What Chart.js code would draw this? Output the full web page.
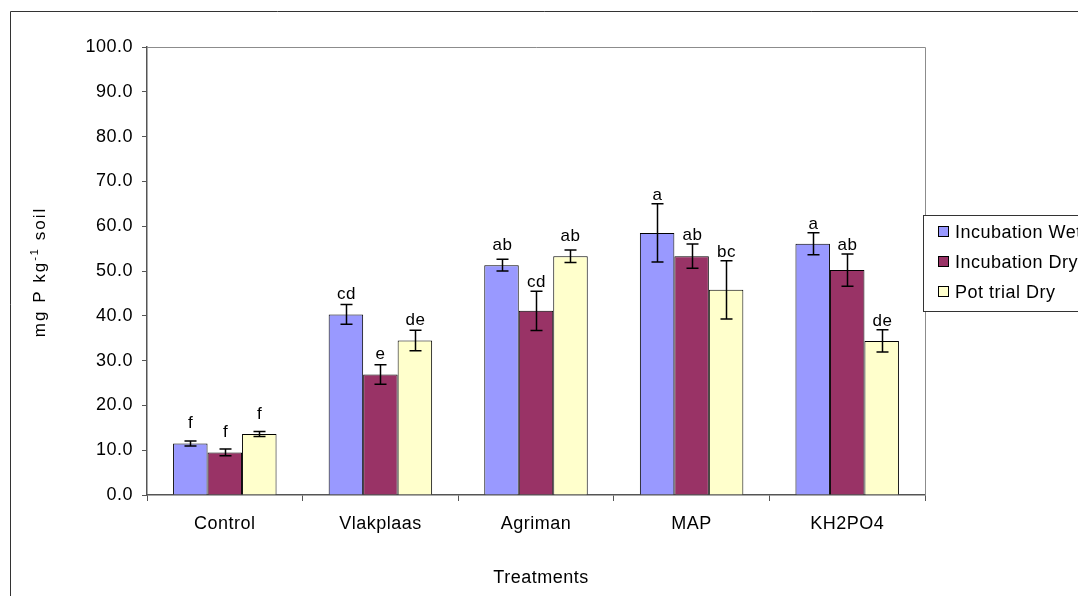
<!DOCTYPE html>
<html>
<head>
<meta charset="utf-8">
<script src="https://cdn.jsdelivr.net/npm/chart.js@4/dist/chart.umd.min.js"></script>
<style>
  html, body { margin: 0; padding: 0; background: #fff; }
  #wrap { width: 1078px; height: 596px; position: relative; }
</style>
</head>
<body>
<div id="wrap"><canvas id="c" width="1078" height="596"></canvas></div>
<script>
// Available P per treatment (mg P kg-1 soil), mean ± error for each method
const categories = ['Control', 'Vlakplaas', 'Agriman', 'MAP', 'KH2PO4'];
const seriesNames = ['Incubation Wet', 'Incubation Dry', 'Pot trial Dry'];
const incubationWet = [11.5, 40.3, 51.3, 58.5, 56.1];
const incubationDry = [9.5, 26.9, 41.1, 53.3, 50.2];
const potTrialDry = [13.6, 34.5, 53.3, 45.8, 34.4];
const incubationWetErr = [0.55, 2.2, 1.3, 6.5, 2.45];
const incubationDryErr = [0.75, 2.2, 4.4, 2.7, 3.6];
const potTrialDryErr = [0.55, 2.3, 1.4, 6.5, 2.5];
const incubationWetLetters = ['f', 'cd', 'ab', 'a', 'a'];
const incubationDryLetters = ['f', 'e', 'cd', 'ab', 'ab'];
const potTrialDryLetters = ['f', 'de', 'ab', 'bc', 'de'];
const yTickValues = [0, 10, 20, 30, 40, 50, 60, 70, 80, 90, 100];

const FONT = '"Liberation Sans", Arial, Helvetica, sans-serif';
Chart.defaults.font.family = FONT;
Chart.defaults.font.size = 18;
Chart.defaults.color = '#000';

const fills = ['#9999FF', '#993366', '#FFFFCC'];
const errs = [incubationWetErr, incubationDryErr, potTrialDryErr];
const letters = [incubationWetLetters, incubationDryLetters, potTrialDryLetters];

// Slightly open tracking for all canvas text
const TRACKING = '0.5px';
const tracking = {
  id: 'tracking',
  beforeUpdate(chart) { chart.ctx.letterSpacing = TRACKING; },
  beforeLayout(chart) { chart.ctx.letterSpacing = TRACKING; },
  beforeDraw(chart) { chart.ctx.letterSpacing = TRACKING; }
};

// Error bars, significance letters, plot frame, axis titles and legend
const decorations = {
  id: 'decorations',
  afterDatasetsDraw(chart) {
    const ctx = chart.ctx;
    const y = chart.scales.y;
    const area = chart.chartArea;
    ctx.save();

    // plot area frame (top and right)
    ctx.strokeStyle = '#8c8c8c';
    ctx.lineWidth = 1;
    ctx.beginPath();
    ctx.moveTo(area.left, area.top + 0.5);
    ctx.lineTo(area.right + 0.5, area.top + 0.5);
    ctx.lineTo(area.right + 0.5, area.bottom);
    ctx.stroke();

    chart.data.datasets.forEach((ds, di) => {
      const meta = chart.getDatasetMeta(di);
      meta.data.forEach((bar, i) => {
        const v = ds.data[i];
        const e = errs[di][i];
        const yTop = y.getPixelForValue(v + e);
        const yBot = y.getPixelForValue(v - e);
        const x = Math.round(bar.x) + 0.5;
        ctx.strokeStyle = '#000';
        ctx.lineWidth = 1.5;
        ctx.beginPath();
        ctx.moveTo(x, yTop); ctx.lineTo(x, yBot);
        ctx.moveTo(x - 6, yTop); ctx.lineTo(x + 6, yTop);
        ctx.moveTo(x - 6, yBot); ctx.lineTo(x + 6, yBot);
        ctx.stroke();

        const base = Math.min(bar.y - 15, yTop - 4);
        ctx.fillStyle = '#000';
        ctx.font = '17px ' + FONT;
        ctx.textAlign = 'center';
        ctx.textBaseline = 'alphabetic';
        ctx.fillText(letters[di][i], x, base);
      });
    });
    ctx.restore();
  },
  afterDraw(chart) {
    const ctx = chart.ctx;
    ctx.save();
    // outer frame
    ctx.strokeStyle = '#333';
    ctx.lineWidth = 1;
    ctx.beginPath();
    ctx.moveTo(10.5, 600);
    ctx.lineTo(10.5, 11.5);
    ctx.lineTo(1090, 11.5);
    ctx.stroke();

    // y axis title with superscript
    ctx.fillStyle = '#000';
    ctx.translate(45, 272);
    ctx.rotate(-Math.PI / 2);
    ctx.letterSpacing = '2px';
    ctx.textBaseline = 'alphabetic';
    ctx.textAlign = 'left';
    const big = '17px ' + FONT, small = '11px ' + FONT;
    const parts = [['mg P kg', big, 0], ['-1', small, -7], [' soil', big, 0]];
    let w = 0;
    parts.forEach(p => { ctx.font = p[1]; w += ctx.measureText(p[0]).width; });
    let cx = -w / 2;
    parts.forEach(p => {
      ctx.font = p[1];
      ctx.fillText(p[0], cx, p[2]);
      cx += ctx.measureText(p[0]).width;
    });
    ctx.setTransform(1, 0, 0, 1, 0, 0);
    ctx.letterSpacing = TRACKING;

    // x axis title
    ctx.font = '18px ' + FONT;
    ctx.textAlign = 'center';
    ctx.textBaseline = 'middle';
    ctx.fillText('Treatments', 541, 578);

    // legend
    const lx = 923.5, ly = 215.5;
    ctx.strokeStyle = '#333';
    ctx.lineWidth = 1;
    ctx.fillStyle = '#fff';
    ctx.fillRect(lx, ly, 200, 96);
    ctx.strokeRect(lx, ly, 200, 96);
    seriesNames.forEach((name, i) => {
      const cy = 232 + i * 30;
      ctx.fillStyle = fills[i];
      ctx.fillRect(938.5, cy - 5.5, 10, 10);
      ctx.strokeStyle = '#000';
      ctx.strokeRect(938.5, cy - 5.5, 10, 10);
      ctx.fillStyle = '#000';
      ctx.textAlign = 'left';
      ctx.textBaseline = 'middle';
      ctx.font = '18px ' + FONT;
      ctx.fillText(name, 955, cy + 1);
    });
    ctx.restore();
  }
};

new Chart(document.getElementById('c'), {
  type: 'bar',
  data: {
    labels: categories,
    datasets: [
      { label: seriesNames[0], data: incubationWet, backgroundColor: fills[0], borderColor: '#000', borderWidth: 1 },
      { label: seriesNames[1], data: incubationDry, backgroundColor: fills[1], borderColor: '#000', borderWidth: 1 },
      { label: seriesNames[2], data: potTrialDry, backgroundColor: fills[2], borderColor: '#000', borderWidth: 1 }
    ]
  },
  options: {
    responsive: false,
    animation: false,
    devicePixelRatio: 1,
    layout: { padding: { left: 0, top: 47, right: 153, bottom: 0 } },
    datasets: { bar: { categoryPercentage: 0.665, barPercentage: 1.0 } },
    plugins: { legend: { display: false }, tooltip: { enabled: false } },
    scales: {
      x: {
        afterFit(s) { s.height = 101; },
        grid: { offset: true, drawOnChartArea: false, tickLength: 6, color: '#555', lineWidth: 1 },
        border: { color: '#555', width: 1.5 },
        ticks: { padding: 12, font: { size: 18 }, color: '#000' }
      },
      y: {
        min: 0, max: 100,
        afterFit(s) { s.width = 147; },
        afterBuildTicks(s) { s.ticks = yTickValues.map(v => ({ value: v })); },
        grid: { drawOnChartArea: false, tickLength: 5, color: '#555', lineWidth: 1 },
        border: { color: '#555', width: 1.5 },
        ticks: { padding: 9, font: { size: 18 }, color: '#000', callback: v => Number(v).toFixed(1) }
      }
    }
  },
  plugins: [tracking, decorations]
});
</script>
</body>
</html>
